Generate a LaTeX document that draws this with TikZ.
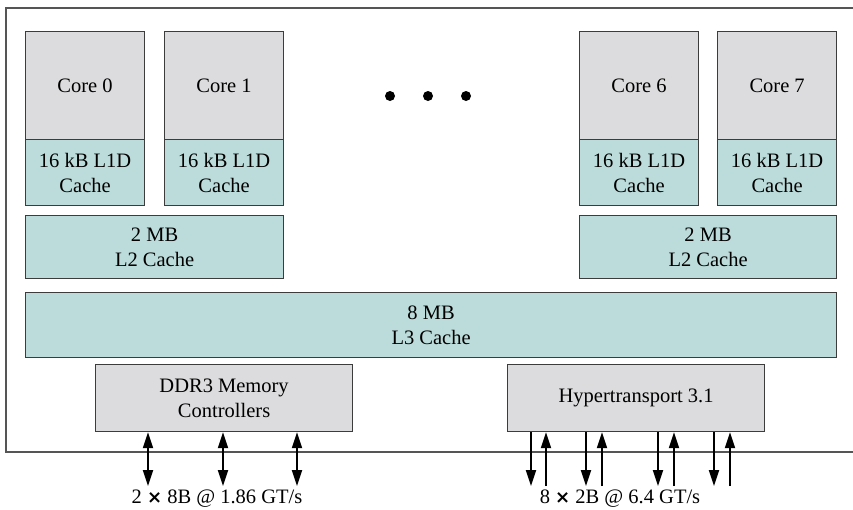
\documentclass[tikz,border=0pt]{standalone}
\usepackage{fontspec}
\setmainfont{Liberation Serif}
\newfontfamily\crossfont{DejaVu Sans}
\usetikzlibrary{arrows.meta}
\definecolor{coregray}{HTML}{DCDCDE}
\definecolor{cachecol}{HTML}{BCDCDB}
\definecolor{edgecol}{HTML}{3C3C3C}
\definecolor{outercol}{HTML}{555555}
\begin{document}
\begin{tikzpicture}[x=1pt,y=-1pt,
  box/.style={draw=edgecol, line width=1.2pt, inner sep=0pt, anchor=north west, align=center,
    font=\fontsize{20.5}{25}\selectfont},
  corebox/.style={box, fill=coregray},
  cachebox/.style={box, fill=cachecol},
  arr/.style={line width=2pt, -{Triangle[length=16pt,width=10pt]}},
  darr/.style={line width=2pt, {Triangle[length=16pt,width=10pt]}-{Triangle[length=16pt,width=10pt]}},
  lbl/.style={inner sep=0pt, anchor=base, font=\fontsize{20.5}{25}\selectfont},
  dot/.style={circle, fill=black, inner sep=0pt, minimum size=10pt}]
\useasboundingbox (0,0) rectangle (853,509);
% outer chip
\draw[outercol, line width=1.6pt] (853,8) -- (6,8) -- (6,452) -- (853,452);
% cores
\node[corebox, minimum width=119pt, minimum height=108pt] (c0) at (25,31) {Core 0};
\node[corebox, minimum width=119pt, minimum height=108pt] (c1) at (164,31) {Core 1};
\node[corebox, minimum width=119pt, minimum height=108pt] (c6) at (579,31) {Core 6};
\node[corebox, minimum width=119pt, minimum height=108pt] (c7) at (717,31) {Core 7};
% L1
\node[cachebox, minimum width=119pt, minimum height=66pt] (l10) at (25,139) {16 kB L1D\\Cache};
\node[cachebox, minimum width=119pt, minimum height=66pt] (l11) at (164,139) {16 kB L1D\\Cache};
\node[cachebox, minimum width=119pt, minimum height=66pt] (l16) at (579,139) {16 kB L1D\\Cache};
\node[cachebox, minimum width=119pt, minimum height=66pt] (l17) at (717,139) {16 kB L1D\\Cache};
% dots
\node[dot] (d1) at (390,96) {};
\node[dot] (d2) at (428,96) {};
\node[dot] (d3) at (466,96) {};
% L2
\node[cachebox, minimum width=258pt, minimum height=63pt] (l2a) at (25,215) {2 MB\\L2 Cache};
\node[cachebox, minimum width=257pt, minimum height=63pt] (l2b) at (579,215) {2 MB\\L2 Cache};
% L3
\node[cachebox, minimum width=811pt, minimum height=65pt] (l3) at (25,292) {8 MB\\L3 Cache};
% controllers
\node[corebox, minimum width=257pt, minimum height=67pt] (ddr) at (95,364) {DDR3 Memory\\Controllers};
\node[corebox, minimum width=257pt, minimum height=67pt] (ht) at (507,364) {Hypertransport 3.1};
% DDR arrows
\coordinate (m1) at (148,486);
\coordinate (m2) at (223,486);
\coordinate (m3) at (297,486);
\draw[darr] (ddr.south -| m1) -- (m1);
\draw[darr] (ddr.south -| m2) -- (m2);
\draw[darr] (ddr.south -| m3) -- (m3);
% HT arrows
\coordinate (h1) at (531,486);
\coordinate (h2) at (546,486);
\coordinate (h3) at (586,486);
\coordinate (h4) at (602,486);
\coordinate (h5) at (658,486);
\coordinate (h6) at (674,486);
\coordinate (h7) at (714,486);
\coordinate (h8) at (730,486);
\draw[arr] (ht.south -| h1) -- (h1);
\draw[arr] (h2) -- (ht.south -| h2);
\draw[arr] (ht.south -| h3) -- (h3);
\draw[arr] (h4) -- (ht.south -| h4);
\draw[arr] (ht.south -| h5) -- (h5);
\draw[arr] (h6) -- (ht.south -| h6);
\draw[arr] (ht.south -| h7) -- (h7);
\draw[arr] (h8) -- (ht.south -| h8);
% labels
\node[lbl] (ddrlbl) at (217,503) {2 {\crossfont\bfseries\fontsize{18}{20}\selectfont ×} 8B @ 1.86 GT/s};
\node[lbl] (htlbl) at (620,503) {8 {\crossfont\bfseries\fontsize{18}{20}\selectfont ×} 2B @ 6.4 GT/s};
\end{tikzpicture}
\end{document}
